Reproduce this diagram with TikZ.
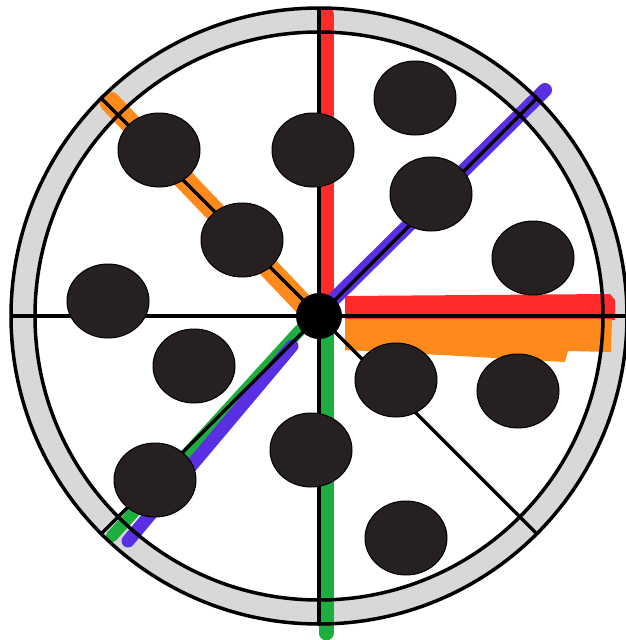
\documentclass[tikz,border=0pt]{standalone}
\definecolor{crustgray}{HTML}{D8D8D8}
\definecolor{pepcol}{HTML}{262020}
\definecolor{mkred}{HTML}{FF2A2A}
\definecolor{mkorange}{HTML}{FF8A1C}
\definecolor{mkpurple}{HTML}{5A2EE2}
\definecolor{mkgreen}{HTML}{1EAE3E}
\tikzset{
  crust/.style={fill=crustgray},
  rim/.style={draw=black,line width=3.5pt},
  cutline/.style={draw=black,line width=3.2pt},
  marker/.style={line width=#1,line cap=round},
  pep/.style={fill=pepcol,draw=black,line width=1pt}
}
\begin{document}
\begin{tikzpicture}[x=1pt,y=-1pt]
\useasboundingbox (0,0) rectangle (626,640);
\coordinate (C) at (319,316);
% crust
\fill[crustgray,even odd rule] (C) circle (308) (C) circle (284);
% marker strokes
\draw[mkred,marker=16pt] (326,15) -- (326,300);
\fill[mkred] (345,296) -- (610,294) -- (615,300) -- (615,320) -- (345,322) -- cycle;
\fill[mkorange] (345,319) -- (612,319) -- (611,352) -- (568,351) -- (565,362) -- (460,356) -- (345,350) -- cycle;
\draw[mkorange,marker=21pt] (110,102) -- (305,306);
\draw[mkpurple,marker=14pt] (545,90) -- (335,298);
\draw[mkgreen,marker=12pt] (300,330) -- (112,536);
\draw[mkpurple,marker=13pt] (292,346) -- (128,541);
\draw[mkgreen,marker=15pt] (326,330) -- (326,633);
% rims and cut lines
\draw[rim] (C) circle (308);
\draw[rim] (C) circle (284);
\foreach \a in {0,45,...,315} {
  \draw[cutline] (C) -- ++(\a:308);
}
% pepperoni
\foreach \px/\py in {159/150, 242/240, 313/150, 415/98, 431/194, 533/258,
  108/301, 194/366, 155/480, 311/450, 396/380, 518/391, 406/538} {
  \filldraw[pep] (\px,\py) ellipse (41 and 37);
}
% center dot
\fill[black] (C) circle (23);
\end{tikzpicture}
\end{document}
